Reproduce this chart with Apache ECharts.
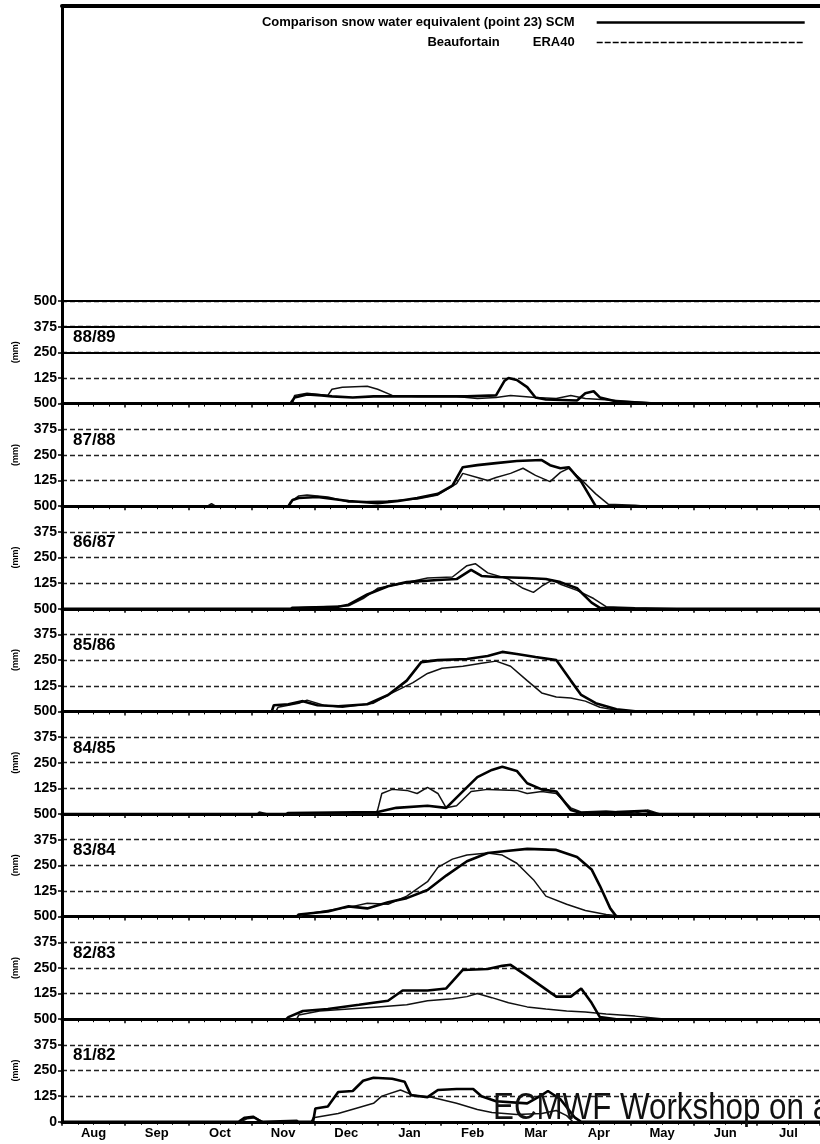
<!DOCTYPE html>
<html>
<head>
<meta charset="utf-8">
<script src="https://cdn.jsdelivr.net/npm/echarts@6/dist/echarts.min.js"></script>
<style>
html,body{margin:0;padding:0;background:#fff;}
#chart{width:820px;height:1144px;}
</style>
</head>
<body>
<div id="chart"></div>
<script>
// ---- DATA (x = days since 1 Aug, y = snow water equivalent in mm) ----
const months = ['Aug','Sep','Oct','Nov','Dec','Jan','Feb','Mar','Apr','May','Jun','Jul'];
const seasons = ['88/89','87/88','86/87','85/86','84/85','83/84','82/83','81/82'];
const yTicks = [0,125,250,375,500];

const scm8889 = [[0,0],[110,0],[112,30],[118,45],[125,40],[130,35],[140,30],[150,35],[170,35],[195,35],[209,40],[213,110],[215,125],[219,115],[224,80],[228,30],[233,20],[248,15],[252,50],[256,60],[259,30],[267,10],[286,0],[365,0]];
const era8889 = [[0,0],[111,0],[112,40],[118,50],[128,40],[130,70],[135,80],[147,85],[152,70],[159,40],[171,35],[190,35],[200,25],[209,30],[216,40],[228,30],[238,25],[245,40],[252,25],[267,15],[281,5],[288,0],[365,0]];

const scm8788 = [[0,0],[109,0],[111,30],[114,40],[123,45],[138,25],[152,15],[162,25],[171,40],[181,60],[188,100],[193,190],[200,200],[209,210],[219,220],[231,225],[235,200],[240,185],[244,190],[250,120],[257,0],[365,0]];
const era8788 = [[0,0],[70,0],[72,12],[74,0],[109,0],[110,20],[114,50],[118,55],[128,45],[138,20],[157,25],[171,35],[181,55],[190,110],[193,160],[200,140],[205,125],[209,140],[216,160],[222,185],[228,150],[235,120],[240,165],[244,185],[250,130],[257,60],[263,10],[276,5],[281,0],[365,0]];

const scm8687 = [[0,0],[110,0],[111,5],[133,10],[138,20],[147,70],[157,110],[166,130],[181,140],[190,145],[197,190],[202,160],[209,155],[224,150],[233,145],[240,130],[248,100],[255,30],[259,5],[276,0],[365,0]];
const era8687 = [[0,0],[113,0],[114,5],[138,15],[145,50],[152,100],[162,120],[176,150],[188,155],[195,210],[199,220],[205,175],[215,145],[222,100],[227,80],[231,110],[236,140],[240,120],[248,90],[256,50],[262,10],[276,5],[296,0],[365,0]];

const scm8586 = [[0,0],[101,0],[102,30],[109,35],[116,50],[123,30],[133,25],[147,35],[157,80],[166,150],[173,240],[181,250],[195,255],[205,270],[212,290],[219,280],[228,265],[238,250],[245,150],[250,80],[257,40],[267,10],[276,0],[365,0]];
const era8586 = [[0,0],[103,0],[104,20],[114,40],[118,55],[126,30],[135,20],[150,40],[159,90],[169,140],[176,185],[183,210],[193,220],[202,235],[209,245],[216,220],[224,150],[231,90],[238,70],[245,65],[252,50],[259,20],[267,5],[276,0],[365,0]];

const scm8485 = [[0,0],[108,0],[109,5],[152,10],[161,30],[176,40],[185,30],[193,110],[200,180],[207,215],[212,230],[219,210],[224,150],[231,120],[238,110],[245,20],[250,5],[267,10],[281,15],[286,0],[365,0]];
const era8485 = [[0,0],[94,0],[95,10],[99,0],[151,0],[152,20],[154,100],[159,120],[166,115],[171,100],[176,130],[181,100],[185,30],[190,40],[197,110],[205,120],[219,115],[224,100],[231,110],[238,100],[245,30],[250,10],[262,15],[276,5],[282,20],[288,0],[365,0]];

const scm8384 = [[0,0],[113,0],[114,10],[128,25],[138,50],[147,40],[157,70],[166,90],[176,130],[185,200],[195,270],[205,310],[214,320],[224,330],[238,325],[248,290],[255,230],[259,150],[264,40],[267,0],[365,0]];
const era8384 = [[0,0],[115,0],[116,10],[128,30],[138,45],[147,65],[157,60],[166,100],[176,170],[181,240],[188,280],[195,300],[205,310],[212,300],[219,260],[227,180],[233,100],[243,60],[252,30],[262,10],[271,0],[365,0]];

const scm8283 = [[0,0],[108,0],[109,10],[116,40],[128,50],[143,70],[157,90],[164,140],[176,140],[185,150],[193,240],[205,245],[212,260],[216,265],[224,210],[231,160],[238,110],[245,110],[250,150],[255,80],[259,10],[267,0],[365,0]];
const era8283 = [[0,0],[113,0],[114,20],[124,40],[138,50],[152,60],[166,70],[176,90],[188,100],[195,110],[200,125],[207,105],[215,80],[224,60],[233,50],[243,40],[252,35],[262,25],[276,15],[286,5],[291,0],[365,0]];

const scm8182 = [[0,0],[85,0],[88,20],[92,25],[96,0],[120,0],[121,5],[122,65],[128,75],[133,145],[140,150],[145,200],[150,215],[159,210],[165,195],[168,130],[176,120],[181,155],[190,160],[198,160],[202,125],[209,100],[224,90],[231,130],[234,150],[240,110],[247,20],[250,0],[365,0]];
const era8182 = [[0,0],[86,0],[89,15],[93,20],[97,0],[105,5],[113,8],[114,0],[120,0],[121,20],[133,40],[143,70],[150,90],[154,125],[163,155],[169,130],[178,120],[190,90],[200,60],[207,45],[219,35],[231,40],[238,55],[243,30],[246,0],[365,0]];

const scmSeries = [scm8889, scm8788, scm8687, scm8586, scm8485, scm8384, scm8283, scm8182];
const eraSeries = [era8889, era8788, era8687, era8586, era8485, era8384, era8283, era8182];

// ---- LAYOUT ----
const LEFT = 62, WIDTH = 764;
const TOP0 = 301, PH = 102.6;
const FONT = '"Liberation Sans", Arial, sans-serif';
const nP = seasons.length;

const grids = [{left: LEFT, width: WIDTH, top: 6, height: TOP0 - 6}];
for (let k = 0; k < nP; k++) grids.push({left: LEFT, width: WIDTH, top: TOP0 + k * PH, height: PH});

const xAxes = [
  {gridIndex: 0, type: 'value', min: 0, max: 365, position: 'bottom',
   axisLine: {lineStyle: {color: '#000', width: 2}}, axisTick: {show: false}, axisLabel: {show: false}, splitLine: {show: false}},
  {gridIndex: 0, type: 'value', min: 0, max: 365, position: 'top',
   axisLine: {lineStyle: {color: '#000', width: 4}}, axisTick: {show: false}, axisLabel: {show: false}, splitLine: {show: false}}
];
const yAxes = [
  {gridIndex: 0, type: 'value', min: 0, max: 1, axisLine: {show: true, lineStyle: {color: '#000', width: 3}},
   axisTick: {show: false}, axisLabel: {show: false}, splitLine: {show: false}}
];
const series = [];
const graphics = [];

for (let k = 0; k < nP; k++) {
  const g = k + 1;
  const last = k === nP - 1;
  xAxes.push({
    gridIndex: g, type: 'value', min: 0, max: 365, interval: 365 / 12, position: 'bottom',
    axisLine: {lineStyle: {color: '#000', width: 3}},
    axisTick: {show: true, length: 4, lineStyle: {color: '#000', width: 1.5}},
    minorTick: {show: true, splitNumber: 4, length: 3, lineStyle: {color: '#000', width: 1}},
    axisLabel: {show: false}, splitLine: {show: false}
  });
  const xi = xAxes.length - 1;
  yAxes.push({
    gridIndex: g, type: 'value', min: 0, max: 500, interval: 125,
    axisLine: {show: true, lineStyle: {color: '#000', width: 3}},
    axisTick: {show: true, length: 4, lineStyle: {color: '#000', width: 1.5}},
    axisLabel: {
      margin: 5, color: '#000', fontFamily: FONT, fontWeight: 'bold', fontSize: 14,
      formatter: v => (v === 0 && !last) ? '' : String(v)
    },
    splitLine: {show: true, lineStyle: {color: '#222', width: 1.3, type: [5, 3]}},
    name: '(mm)', nameLocation: 'middle', nameRotate: 90, nameGap: 42,
    nameTextStyle: {color: '#000', fontFamily: FONT, fontWeight: 'bold', fontSize: 9}
  });
  const yi = yAxes.length - 1;
  const scm = {
    name: 'SCM', type: 'line', xAxisIndex: xi, yAxisIndex: yi, data: scmSeries[k],
    symbol: 'none', animation: false, z: 4,
    itemStyle: {color: '#000'},
    lineStyle: {color: '#000', width: 2.6}
  };
  if (k === 0) {
    scm.markLine = {
      silent: true, symbol: 'none', label: {show: false}, animation: false,
      lineStyle: {color: '#000', type: 'solid', width: 2},
      data: [{yAxis: 375}, {yAxis: 250}]
    };
  }
  series.push(scm);
  series.push({
    name: 'ERA40', type: 'line', xAxisIndex: xi, yAxisIndex: yi, data: eraSeries[k],
    symbol: 'none', animation: false, z: 3,
    itemStyle: {color: '#111'},
    lineStyle: {color: '#111', width: 1.5}
  });
  graphics.push({
    type: 'text', left: 73, top: TOP0 + k * PH + 28,
    style: {text: seasons[k], font: 'bold 17px ' + FONT, fill: '#000'}
  });
}

// month labels on the bottom panel (category axis centred in each month)
xAxes.push({
  gridIndex: nP, type: 'category', data: months, boundaryGap: true, position: 'bottom',
  axisLine: {show: false}, axisTick: {show: false}, splitLine: {show: false},
  axisLabel: {margin: 5, color: '#000', fontFamily: FONT, fontWeight: 'bold', fontSize: 13, interval: 0}
});

graphics.push({
  type: 'text', left: 493, top: 1091, z: 100, scaleX: 0.87,
  style: {text: 'ECMWF Workshop on a', font: '36px ' + FONT, fill: '#111'}
});

const hidden = {color: 'rgba(0,0,0,0)', borderColor: 'rgba(0,0,0,0)', borderWidth: 0};
const chart = echarts.init(document.getElementById('chart'), null, {renderer: 'canvas'});
chart.setOption({
  backgroundColor: '#fff',
  animation: false,
  grid: grids,
  xAxis: xAxes,
  yAxis: yAxes,
  legend: {
    data: [
      {name: 'SCM', itemStyle: hidden, lineStyle: {color: '#000', width: 2.6}},
      {name: 'ERA40', itemStyle: hidden, lineStyle: {color: '#000', type: [6, 2], width: 1.5}}
    ],
    orient: 'vertical', right: 9, top: 11, align: 'right',
    itemWidth: 208, itemHeight: 12, itemGap: 7,
    formatter: n => n === 'SCM'
      ? '{a|Comparison snow water equivalent (point 23) SCM}'
      : '{b|Beaufortain}{c|ERA40}',
    textStyle: {
      color: '#000', fontFamily: FONT, fontWeight: 'bold', fontSize: 13,
      rich: {
        a: {width: 360, align: 'right', fontFamily: FONT, fontWeight: 'bold', fontSize: 13, padding: [0, 17, 0, 0]},
        b: {width: 285, align: 'right', fontFamily: FONT, fontWeight: 'bold', fontSize: 13},
        c: {width: 75, align: 'right', fontFamily: FONT, fontWeight: 'bold', fontSize: 13, padding: [0, 17, 0, 0]}
      }
    }
  },
  graphic: graphics,
  series: series
});
</script>
</body>
</html>
